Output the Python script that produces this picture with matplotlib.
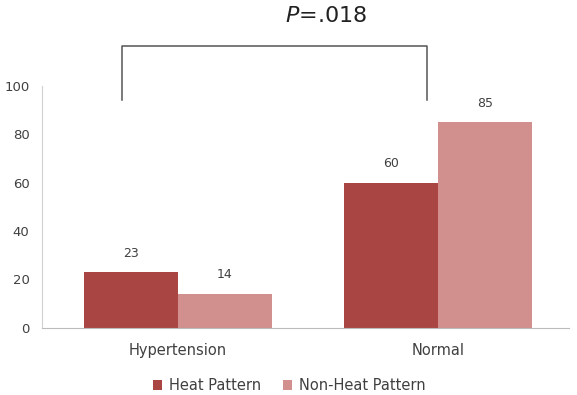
import numpy as np
import matplotlib.pyplot as plt

# datos
categorias = ["Hypertension", "Normal"]
heat = [23, 60]
non_heat = [14, 85]
series = ["Heat Pattern", "Non-Heat Pattern"]
p_texto = "$P$=.018"

col_heat = "#A94643"
col_non = "#D18F8D"

fig = plt.figure(figsize=(5.77, 3.95), dpi=100)
ax = fig.add_axes([0.073, 0.170, 0.913, 0.613])

x = np.arange(len(categorias))
w = 0.362
b1 = ax.bar(x - w / 2, heat, w, color=col_heat, label=series[0])
b2 = ax.bar(x + w / 2, non_heat, w, color=col_non, label=series[1])

# etiquetas de valor
for barras in (b1, b2):
    for r in barras:
        ax.annotate(str(int(r.get_height())), (r.get_x() + r.get_width() / 2, r.get_height()),
                    xytext=(0, 9), textcoords="offset points", ha="center", va="bottom",
                    fontsize=9, color="#404040")

ax.set_xlim(-0.523, 1.505)
ax.set_ylim(0, 100)
ax.set_yticks([0, 20, 40, 60, 80, 100])
ax.set_xticks(x)
ax.set_xticklabels(categorias)
ax.tick_params(axis="both", length=0, labelcolor="#404040")
ax.tick_params(axis="y", pad=9, labelsize=9.5)
ax.tick_params(axis="x", pad=11, labelsize=10.5)

for s in ["top", "right"]:
    ax.spines[s].set_visible(False)
ax.spines["left"].set_color("#D0D0D0")
ax.spines["bottom"].set_color("#BBBBBB")

# corchete de significancia
xi, xd = -0.215, 0.958
ax.plot([xi, xi, xd, xd], [94, 116.2, 116.2, 94], color="#555555", lw=1.1, clip_on=False)
ax.text(0.57, 124.5, p_texto, ha="center", va="bottom", fontsize=16, color="#222222")

ax.legend(loc="upper center", bbox_to_anchor=(0.47, -0.172), ncol=2, frameon=False,
          fontsize=10.5, handlelength=0.6, handleheight=0.6, handletextpad=0.5,
          columnspacing=1.5, labelcolor="#404040", borderaxespad=0.2)

fig.savefig("out.png", dpi=100)
